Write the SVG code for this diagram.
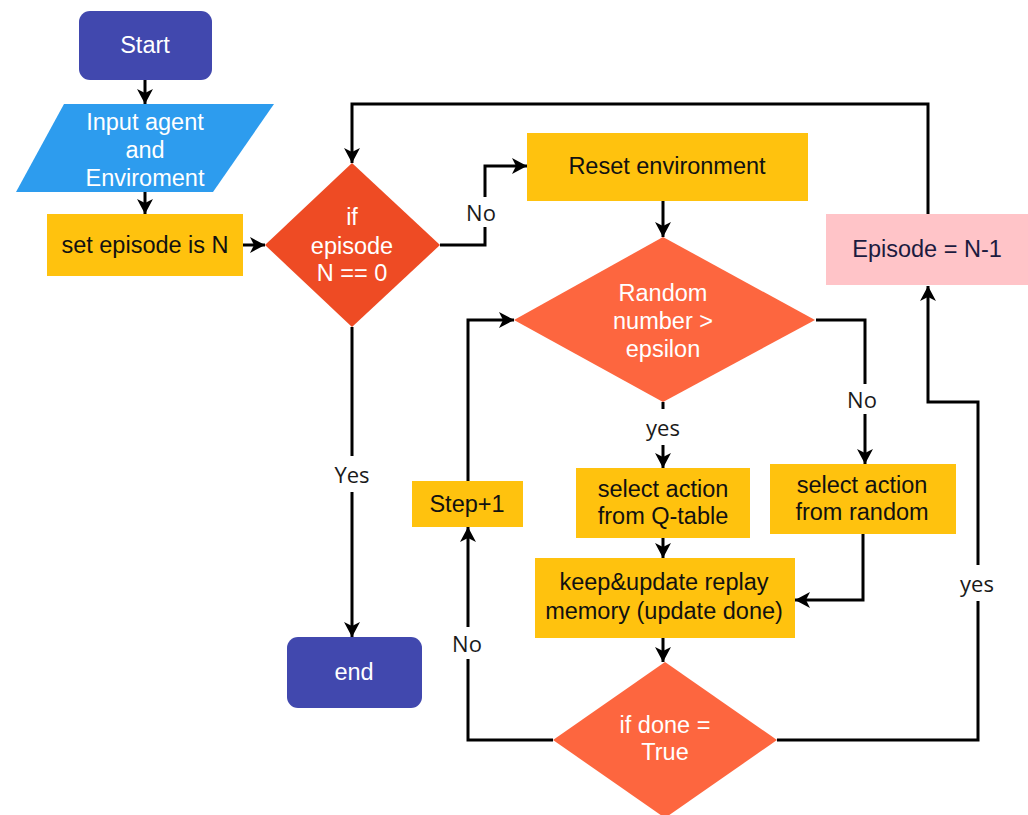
<svg xmlns="http://www.w3.org/2000/svg" width="1028" height="815" viewBox="0 0 1028 815">
<style>
.t{font-family:"Liberation Sans",Arial,sans-serif;font-size:23.5px;text-anchor:middle;dominant-baseline:central}
.w{fill:#ffffff}
.k{fill:#111111}
.lbl{font-family:"Open Sans","DejaVu Sans",sans-serif;font-size:22px;text-anchor:middle;dominant-baseline:central;fill:#1a1a1a}
.c{fill:none;stroke:#000;stroke-width:3;marker-end:url(#ah)}
.term{fill:#4148AE}
.proc{fill:#FFC20E}
</style>
<defs>
<marker id="ah" markerUnits="userSpaceOnUse" markerWidth="18" markerHeight="18" refX="15" refY="8" orient="auto">
<path d="M0,0 L15,8 L0,16 L4,8 Z" fill="#000"/>
</marker>
</defs>
<rect width="1028" height="815" fill="#ffffff"/>

<g id="connectors">
<path class="c" d="M145,80 V104"/>
<path class="c" d="M145,192 V214"/>
<path class="c" d="M243,245 H265"/>
<path class="c" d="M440,245 H485 V166 H527"/>
<path class="c" d="M663,201 V237"/>
<path class="c" d="M663,402 V468"/>
<path class="c" d="M816,320 H865 V464"/>
<path class="c" d="M663,538 V558"/>
<path class="c" d="M863,534 V600 H795"/>
<path class="c" d="M663,638 V662"/>
<path class="c" d="M553,740 H468 V527"/>
<path class="c" d="M468,481 V320 H514"/>
<path class="c" d="M777,740 H978 V402 H928 V286"/>
<path class="c" d="M928,214 V104 H352 V163"/>
<path class="c" d="M352,327 V637"/>
</g>

<g id="labels">
<rect x="463" y="197" width="38" height="30" fill="#fff"/>
<text class="lbl" x="481" y="212">No</text>
<rect x="328" y="456" width="48" height="36" fill="#fff"/>
<text class="lbl" x="352" y="474">Yes</text>
<rect x="640" y="409" width="46" height="36" fill="#fff"/>
<text class="lbl" x="663" y="427">yes</text>
<rect x="843" y="384" width="38" height="30" fill="#fff"/>
<text class="lbl" x="862" y="399">No</text>
<rect x="448" y="627" width="38" height="32" fill="#fff"/>
<text class="lbl" x="467" y="643">No</text>
<rect x="955" y="565" width="46" height="36" fill="#fff"/>
<text class="lbl" x="977" y="583">yes</text>
</g>

<g id="start">
<rect class="term" x="79" y="11" width="133" height="69" rx="11"/>
<text class="t w" x="145" y="45">Start</text>
</g>

<g id="input">
<polygon points="64,104 274,104 213,192 16,192" fill="#2D9CEE"/>
<text class="t w" x="145" y="122">Input agent</text>
<text class="t w" x="145" y="150">and</text>
<text class="t w" x="145" y="178">Enviroment</text>
</g>

<g id="set-episode">
<rect class="proc" x="47" y="214" width="196" height="62"/>
<text class="t k" x="145" y="245">set episode is N</text>
</g>

<g id="if-episode">
<polygon points="352,163 440,245 352,327 265,245" fill="#EE4B24"/>
<text class="t w" x="352" y="217">if</text>
<text class="t w" x="352" y="246">episode</text>
<text class="t w" x="352" y="273">N == 0</text>
</g>

<g id="reset">
<rect class="proc" x="527" y="133" width="281" height="68"/>
<text class="t k" x="667" y="166">Reset environment</text>
</g>

<g id="random-check">
<polygon points="663,237 815,320 663,402 514,320" fill="#FD663F"/>
<text class="t w" x="663" y="293">Random</text>
<text class="t w" x="663" y="321">number &gt;</text>
<text class="t w" x="663" y="349">epsilon</text>
</g>

<g id="q-table">
<rect class="proc" x="576" y="468" width="174" height="70"/>
<text class="t k" x="663" y="489">select action</text>
<text class="t k" x="663" y="516">from Q-table</text>
</g>

<g id="random-action">
<rect class="proc" x="770" y="464" width="186" height="70"/>
<text class="t k" x="862" y="485">select action</text>
<text class="t k" x="862" y="512">from random</text>
</g>

<g id="keep-update">
<rect class="proc" x="535" y="558" width="260" height="80"/>
<text class="t k" x="664" y="582">keep&amp;update replay</text>
<text class="t k" x="664" y="611">memory (update done)</text>
</g>

<g id="if-done">
<polygon points="665,662 777,740 665,818 553,740" fill="#FD663F"/>
<text class="t w" x="665" y="725">if done =</text>
<text class="t w" x="665" y="752">True</text>
</g>

<g id="step">
<rect class="proc" x="412" y="481" width="111" height="46"/>
<text class="t k" x="467" y="504">Step+1</text>
</g>

<g id="episode-dec">
<rect x="826" y="214" width="202" height="71" fill="#FFC4C8"/>
<text class="t" x="927" y="249" fill="#1C1B3F">Episode = N-1</text>
</g>

<g id="end">
<rect class="term" x="287" y="637" width="135" height="71" rx="11"/>
<text class="t w" x="354" y="672">end</text>
</g>
</svg>
